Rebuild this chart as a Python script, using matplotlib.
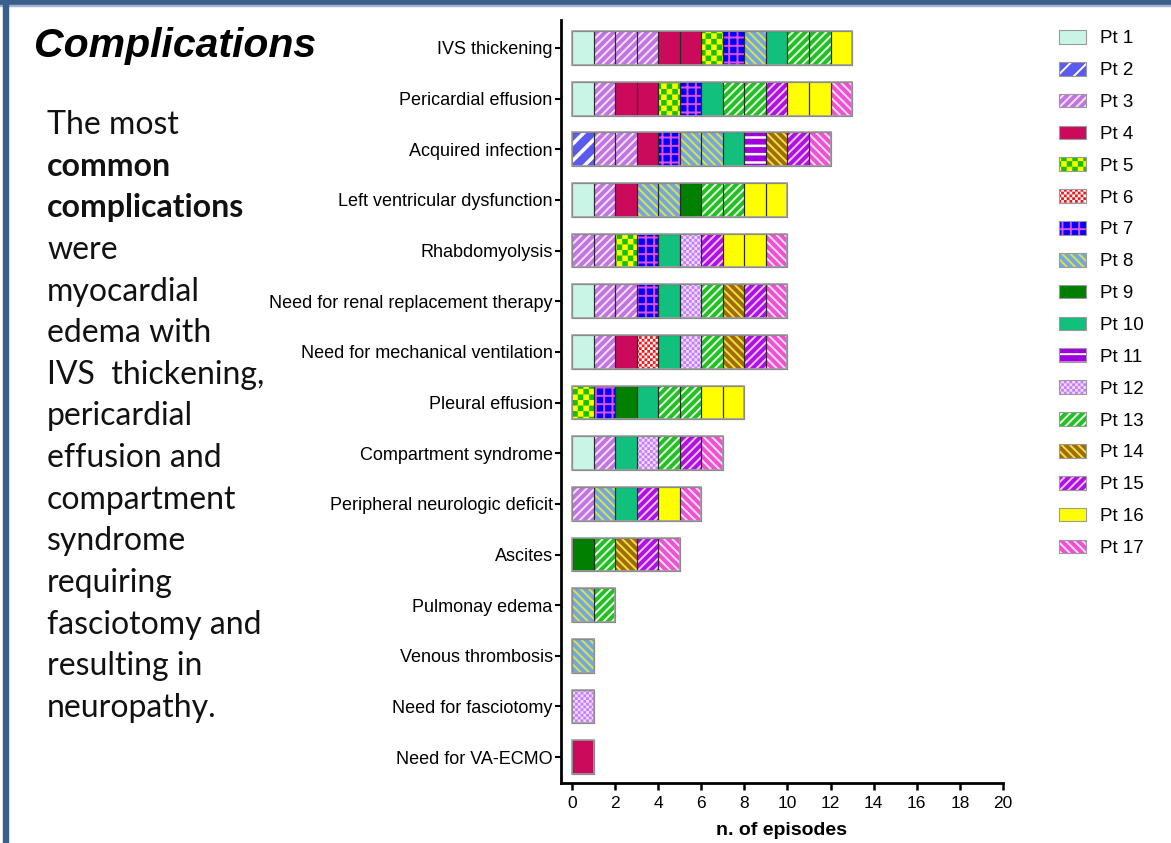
import numpy as np
import matplotlib
matplotlib.use("Agg")
import matplotlib.pyplot as plt
import matplotlib.hatch as mhatch
from matplotlib.path import Path
from matplotlib.patches import Patch, Rectangle
from matplotlib.legend_handler import HandlerTuple

# ---------------- data ----------------
categories = [
    "IVS thickening", "Pericardial effusion", "Acquired infection",
    "Left ventricular dysfunction", "Rhabdomyolysis",
    "Need for renal replacement therapy", "Need for mechanical ventilation",
    "Pleural effusion", "Compartment syndrome", "Peripheral neurologic deficit",
    "Ascites", "Pulmonay edema", "Venous thrombosis", "Need for fasciotomy",
    "Need for VA-ECMO",
]
patients = [f"Pt {i}" for i in range(1, 18)]

pt1 = [1, 1, 0, 1, 0, 1, 1, 0, 1, 0, 0, 0, 0, 0, 0]
pt2 = [0, 0, 1, 0, 0, 0, 0, 0, 0, 0, 0, 0, 0, 0, 0]
pt3 = [3, 1, 2, 1, 2, 2, 1, 0, 1, 1, 0, 0, 0, 0, 0]
pt4 = [2, 2, 1, 1, 0, 0, 1, 0, 0, 0, 0, 0, 0, 0, 1]
pt5 = [1, 1, 0, 0, 1, 0, 0, 1, 0, 0, 0, 0, 0, 0, 0]
pt6 = [0, 0, 0, 0, 0, 0, 1, 0, 0, 0, 0, 0, 0, 0, 0]
pt7 = [1, 1, 1, 0, 1, 1, 0, 1, 0, 0, 0, 0, 0, 0, 0]
pt8 = [1, 0, 2, 2, 0, 0, 0, 0, 0, 1, 0, 1, 1, 0, 0]
pt9 = [0, 0, 0, 1, 0, 0, 0, 1, 0, 0, 1, 0, 0, 0, 0]
pt10 = [1, 1, 1, 0, 1, 1, 1, 1, 1, 1, 0, 0, 0, 0, 0]
pt11 = [0, 0, 1, 0, 0, 0, 0, 0, 0, 0, 0, 0, 0, 0, 0]
pt12 = [0, 0, 0, 0, 1, 1, 1, 0, 1, 0, 0, 0, 0, 1, 0]
pt13 = [2, 2, 0, 2, 0, 1, 1, 2, 1, 0, 1, 1, 0, 0, 0]
pt14 = [0, 0, 1, 0, 0, 1, 1, 0, 0, 0, 1, 0, 0, 0, 0]
pt15 = [0, 1, 1, 0, 1, 1, 1, 0, 1, 1, 1, 0, 0, 0, 0]
pt16 = [1, 2, 0, 2, 2, 0, 0, 2, 0, 1, 0, 0, 0, 0, 0]
pt17 = [0, 1, 1, 0, 1, 1, 1, 0, 1, 1, 1, 0, 0, 0, 0]
counts = [pt1, pt2, pt3, pt4, pt5, pt6, pt7, pt8, pt9, pt10,
          pt11, pt12, pt13, pt14, pt15, pt16, pt17]

xticks = list(range(0, 21, 2))

# ---------------- styles ----------------
# (face colour, hatch, hatch colour, hatch linewidth)
styles = [
    ("#c9f5e7", None, "none", 1.4),
    ("#5a5aee", "//", "white", 2.6),
    ("#c274e2", "////", "#f4e4fb", 1.4),
    ("#cc0a5c", None, "none", 1.4),
    ("#ffff00", "o", "#18c000", 1.4),
    ("#ffffff", "O", "#f01818", 1.4),
    ("#0000ff", "++", "#e050e0", 1.4),
    ("#70a8e6", "\\\\\\\\", "#e0e040", 1.4),
    ("#007f00", None, "none", 1.4),
    ("#10c07c", None, "none", 1.4),
    ("#a000e0", "--", "white", 1.8),
    ("#c47cf8", "O", "#f0dcff", 1.4),
    ("#22c022", "////", "#e8ffe8", 1.4),
    ("#a06c08", "\\\\\\\\", "#f0e040", 1.4),
    ("#b010e4", "////", "#f0c8ff", 1.4),
    ("#ffff00", None, "none", 1.4),
    ("#f050d4", "\\\\\\\\", "#ffe0f8", 1.4),
]

HATCH_LW = 1.4
plt.rcParams["hatch.linewidth"] = HATCH_LW


# ---- checkerboard hatch patterns (replace circle hatches) ----
class _Checker(mhatch.HatchPatternBase):
    char = "o"
    cells = 18

    def __init__(self, hatch, density):
        self.num_vertices = 0
        self.squares = []
        if hatch.count(self.char) > 0:
            n = self.cells
            self.squares = [(i, j) for i in range(n) for j in range(n)
                            if (i + j) % 2 == 0]
            self.num_vertices = len(self.squares) * 5

    def set_vertices_and_codes(self, vertices, codes):
        s = 1.0 / self.cells
        m = HATCH_LW / 144.0
        for k, (i, j) in enumerate(self.squares):
            x0, y0 = i * s + m, j * s + m
            x1, y1 = (i + 1) * s - m, (j + 1) * s - m
            vertices[k * 5:k * 5 + 5] = [(x0, y0), (x1, y0), (x1, y1),
                                         (x0, y1), (x0, y0)]
            codes[k * 5:k * 5 + 5] = [Path.MOVETO, Path.LINETO, Path.LINETO,
                                      Path.LINETO, Path.CLOSEPOLY]


class _SmallChecker(_Checker):
    char = "O"
    cells = 36


mhatch._hatch_types = [t for t in mhatch._hatch_types
                       if t not in (mhatch.SmallCircles, mhatch.LargeCircles)]
mhatch._hatch_types += [_Checker, _SmallChecker]


def _set_hlw(patches, lw):
    for pt in patches:
        if hasattr(pt, "set_hatch_linewidth"):
            pt.set_hatch_linewidth(lw)


# ---------------- figure ----------------
W, H = 1171, 843
fig = plt.figure(figsize=(W / 100, H / 100), dpi=100)


def fx(px):
    return px / W


def fy(py):
    return 1 - py / H


ax = fig.add_axes([fx(561), fy(783), (1003 - 561) / W, (783 - 20) / H])

y = np.arange(len(categories))
cum = np.zeros(len(categories))
bar_h = 0.67
for p, cnt in enumerate(counts):
    cnt = np.array(cnt)
    face, hatch, hcol, hlw = styles[p]
    for k in range(cnt.max() if cnt.max() > 0 else 0):
        mask = cnt > k
        with plt.rc_context({"hatch.linewidth": hlw}):
            bc = ax.barh(y[mask], np.ones(mask.sum()), left=cum[mask] + k,
                         height=bar_h, color=face, hatch=hatch,
                         edgecolor=hcol, linewidth=0, zorder=2)
        _set_hlw(bc, hlw)
        ax.barh(y[mask], np.ones(mask.sum()), left=cum[mask] + k,
                height=bar_h, fill=False, edgecolor="#2a2a2a",
                linewidth=0.8, zorder=3)
    cum += cnt
# outer outline of each bar
ax.barh(y, cum, left=0, height=bar_h, fill=False, edgecolor="#a0a0a0",
        linewidth=1.2, zorder=4)

ax.set_xlim(-0.51, 20)
ax.set_ylim(14.51, -0.55)
ax.set_yticks(y)
ax.set_yticklabels(categories, fontsize=13, family="Liberation Sans")
ax.set_xticks(xticks)
ax.set_xticklabels([str(v) for v in xticks], fontsize=12.5,
                   family="Liberation Sans")
ax.tick_params(axis="y", length=4, width=1.5, pad=2)
ax.tick_params(axis="x", length=5, width=1.8, pad=4)
for s in ("top", "right"):
    ax.spines[s].set_visible(False)
for s in ("left", "bottom"):
    ax.spines[s].set_linewidth(2.0)
ax.set_xlabel("n. of episodes", fontsize=14, fontweight="bold",
              family="Liberation Sans", labelpad=8)

# ---------------- legend ----------------
handles = []
for face, hatch, hcol, hlw in styles:
    with plt.rc_context({"hatch.linewidth": hlw}):
        fill_p = Patch(facecolor=face, hatch=hatch, edgecolor=hcol,
                       linewidth=0)
    _set_hlw([fill_p], hlw)
    edge_p = Patch(facecolor="none", edgecolor="#9a9a9a", linewidth=0.8)
    handles.append((fill_p, edge_p))
fig.legend(handles, patients, loc="upper left",
           bbox_to_anchor=(fx(1059), fy(30)), bbox_transform=fig.transFigure,
           frameon=False, borderpad=0, borderaxespad=0,
           prop={"family": "Liberation Sans", "size": 13.5},
           handlelength=1.45, handleheight=0.75, labelspacing=0.77,
           handletextpad=0.72,
           handler_map={tuple: HandlerTuple(ndivide=1)})

# ---------------- left text ----------------
fig.text(fx(34), fy(57), "Complications", fontsize=29.5, fontweight="bold",
         fontstyle="italic", family="Liberation Sans", va="baseline")

body = [
    ("The most", "normal"), ("common", "bold"), ("complications", "bold"),
    ("were", "normal"), ("myocardial", "normal"), ("edema with", "normal"),
    ("IVS  thickening,", "normal"), ("pericardial", "normal"),
    ("effusion and", "normal"), ("compartment", "normal"),
    ("syndrome", "normal"), ("requiring", "normal"),
    ("fasciotomy and", "normal"), ("resulting in", "normal"),
    ("neuropathy.", "normal"),
]
for i, (txt, wt) in enumerate(body):
    fig.text(fx(47), fy(134 + 41.64 * i), txt, fontsize=23, fontweight=wt,
             family="Lato", va="baseline", color="#111111")

# ---------------- slide border ----------------
fig.patches.append(Rectangle((0, fy(5)), 1, fy(0) - fy(5),
                             transform=fig.transFigure, color="#3b5f8c",
                             zorder=10))
fig.patches.append(Rectangle((0, fy(6)), 1, fy(5) - fy(6),
                             transform=fig.transFigure, color="#9fb4d0",
                             zorder=10))
fig.patches.append(Rectangle((fx(3), 0), fx(8) - fx(3), 1,
                             transform=fig.transFigure, color="#3b5f8c",
                             zorder=10))

fig.savefig("out.png", dpi=100)
